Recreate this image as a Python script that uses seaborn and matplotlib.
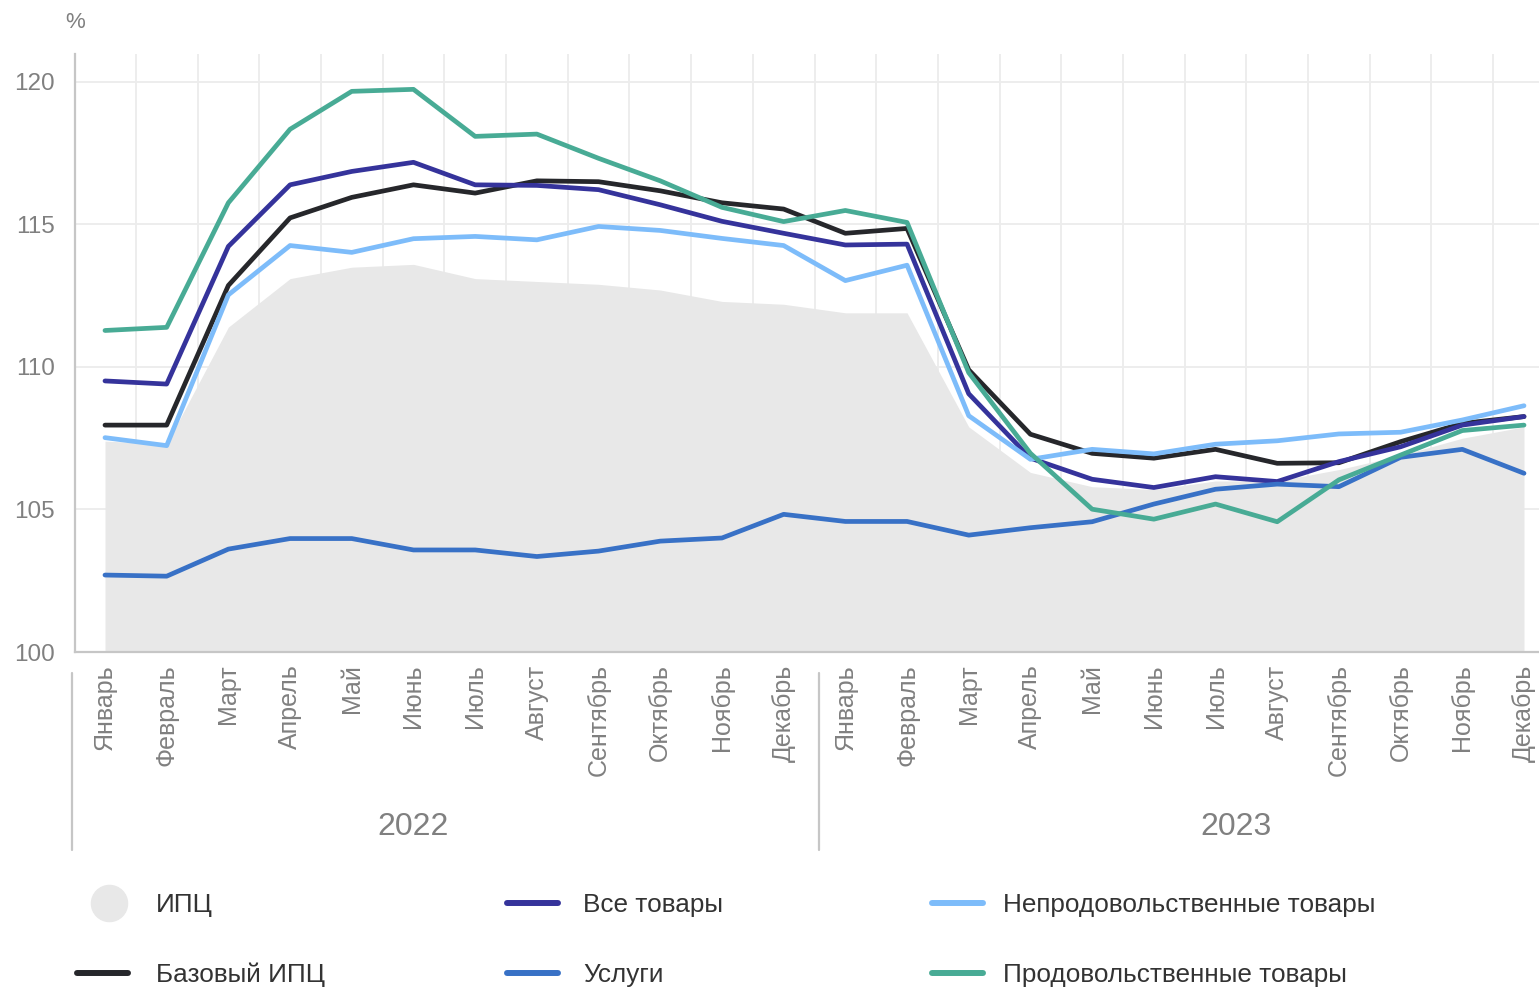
import numpy as np
import pandas as pd
import matplotlib
matplotlib.use("Agg")
import matplotlib.pyplot as plt
import matplotlib.transforms as mtransforms
from matplotlib.lines import Line2D
from matplotlib.legend_handler import HandlerLine2D
import seaborn as sns

# ---------------- data ----------------
months = ["Январь", "Февраль", "Март", "Апрель", "Май", "Июнь", "Июль",
          "Август", "Сентябрь", "Октябрь", "Ноябрь", "Декабрь"]
years = ["2022", "2023"]
month_labels = months * len(years)

cpi = [107.4, 107.3, 111.4, 113.1, 113.5, 113.6, 113.1, 113.0, 112.9, 112.7, 112.3, 112.2,
       111.9, 111.9, 107.9, 106.3, 105.8, 105.7, 106.0, 106.0, 106.4, 106.9, 107.5, 107.9]
core = [107.96, 107.96, 112.86, 115.23, 115.95, 116.39, 116.10, 116.53, 116.50, 116.18, 115.76, 115.54,
        114.69, 114.86, 109.90, 107.64, 106.97, 106.80, 107.11, 106.62, 106.64, 107.38, 108.02, 108.26]
goods = [109.51, 109.40, 114.23, 116.39, 116.86, 117.18, 116.39, 116.37, 116.22, 115.69, 115.11, 114.69,
         114.28, 114.31, 109.06, 106.80, 106.06, 105.77, 106.15, 105.98, 106.68, 107.20, 107.96, 108.26]
nonfood = [107.52, 107.24, 112.53, 114.26, 114.02, 114.50, 114.58, 114.46, 114.93, 114.79, 114.51, 114.26,
           113.03, 113.57, 108.29, 106.76, 107.11, 106.95, 107.29, 107.41, 107.65, 107.71, 108.14, 108.64]
services = [102.70, 102.66, 103.61, 103.98, 103.98, 103.58, 103.58, 103.35, 103.54, 103.89, 104.00, 104.83,
            104.58, 104.58, 104.10, 104.36, 104.57, 105.19, 105.71, 105.89, 105.80, 106.83, 107.11, 106.27]
food = [111.28, 111.39, 115.76, 118.34, 119.67, 119.74, 118.09, 118.17, 117.32, 116.53, 115.60, 115.10,
        115.49, 115.07, 109.80, 106.97, 105.01, 104.66, 105.19, 104.57, 106.04, 106.91, 107.77, 107.96]

series_names = ["ИПЦ", "Базовый ИПЦ", "Все товары", "Услуги",
                "Непродовольственные товары", "Продовольственные товары"]
y_ticks = [100, 105, 110, 115, 120]

# ---------------- style ----------------
sns.set_theme(style="white")
plt.rcParams['font.family'] = ['Liberation Sans', 'DejaVu Sans']

C_AREA = "#e8e8e8"
C_CORE = "#26272b"
C_GOODS = "#35339b"
C_SERV = "#3871c6"
C_NONFOOD = "#7dbcfa"
C_FOOD = "#48ab95"
C_TEXT = "#808080"
C_AXIS = "#c6c6c6"
C_GRID = "#ececec"

W, H = 1539, 988
fig = plt.figure(figsize=(W / 100, H / 100), dpi=100)
ax = fig.add_axes([75 / W, (H - 652) / H, 1479 / W, 598 / H])

x = np.arange(len(month_labels))
df = pd.DataFrame({"x": x, "cpi": cpi, "core": core, "goods": goods,
                   "services": services, "nonfood": nonfood, "food": food})

ax.fill_between(df["x"], 100, df["cpi"], color=C_AREA, linewidth=0, zorder=1)

lw = 3.4
for col, color, z in [("core", C_CORE, 3), ("goods", C_GOODS, 4), ("services", C_SERV, 5),
                      ("nonfood", C_NONFOOD, 6), ("food", C_FOOD, 7)]:
    sns.lineplot(data=df, x="x", y=col, ax=ax, color=color, linewidth=lw, zorder=z,
                 solid_joinstyle="round")

ax.set_xlim(-0.486, 23.486)
ax.set_ylim(100, 120.98)
ax.set_xlabel("")
ax.set_ylabel("")

ax.set_xticks(x)
ax.set_xticklabels(month_labels, rotation=90, fontsize=18, color=C_TEXT)
ax.set_xticks(np.arange(len(x) - 1) + 0.5, minor=True)
ax.set_yticks(y_ticks)
ax.set_yticklabels([str(v) for v in y_ticks], fontsize=17.5, color=C_TEXT)
ax.tick_params(axis="x", which="both", length=0, pad=9)
ax.tick_params(axis="y", which="both", length=0, pad=14.5)

ax.set_axisbelow(True)
ax.yaxis.grid(True, color=C_GRID, linewidth=1.3)
ax.xaxis.grid(True, which="minor", color=C_GRID, linewidth=1.3)
ax.xaxis.grid(False, which="major")

for s in ["top", "right"]:
    ax.spines[s].set_visible(False)
for s in ["left", "bottom"]:
    ax.spines[s].set_color(C_AXIS)
    ax.spines[s].set_linewidth(1.6)

# year separators and labels
trans = mtransforms.blended_transform_factory(ax.transData, ax.transAxes)
for xs in [-0.54, 11.57]:
    ax.plot([xs, xs], [-0.035, -0.331], transform=trans, clip_on=False,
            color=C_AXIS, linewidth=1.6)
for xc, yr in zip([5.0, 18.33], years):
    ax.text(xc, -0.293, yr, transform=trans, ha="center", va="center",
            fontsize=23, color=C_TEXT)

fig.text(75 / W, 1 - 23 / H, "%", ha="center", va="center", fontsize=16, color=C_TEXT)


class ShiftedHandler(HandlerLine2D):
    def __init__(self, shift, **kw):
        super().__init__(**kw)
        self.shift = shift

    def create_artists(self, legend, orig_handle, xdescent, ydescent, width, height, fontsize, trans):
        arts = super().create_artists(legend, orig_handle, xdescent, ydescent, width, height,
                                      fontsize, trans)
        for a in arts:
            a.set_xdata(np.asarray(a.get_xdata(), dtype=float) + self.shift)
        return arts


# legend: three columns
fs = 18.8
fs_px = fs * 100 / 72
common = dict(frameon=False, fontsize=fs, handlelength=51 / fs_px,
              labelspacing=1.74, borderpad=0,
              borderaxespad=0, loc="center left", labelcolor="#333333")
cpi_handle = Line2D([], [], marker="o", markersize=26, color=C_AREA, linestyle="none")
cols = [
    (77, 28, [cpi_handle, Line2D([], [], color=C_CORE, linewidth=4.3)], series_names[0:2]),
    (507, 25, [Line2D([], [], color=C_GOODS, linewidth=4.3),
               Line2D([], [], color=C_SERV, linewidth=4.3)], series_names[2:4]),
    (932, 20, [Line2D([], [], color=C_NONFOOD, linewidth=4.3),
               Line2D([], [], color=C_FOOD, linewidth=4.3)], series_names[4:6]),
]
for xpos, gap, handles, labels in cols:
    fig.legend(handles, labels, bbox_to_anchor=(xpos / W, 1 - 940 / H),
               handletextpad=gap / fs_px,
               handler_map={cpi_handle: ShiftedHandler(5.0)}, **common)

fig.savefig("out.png", dpi=100)
